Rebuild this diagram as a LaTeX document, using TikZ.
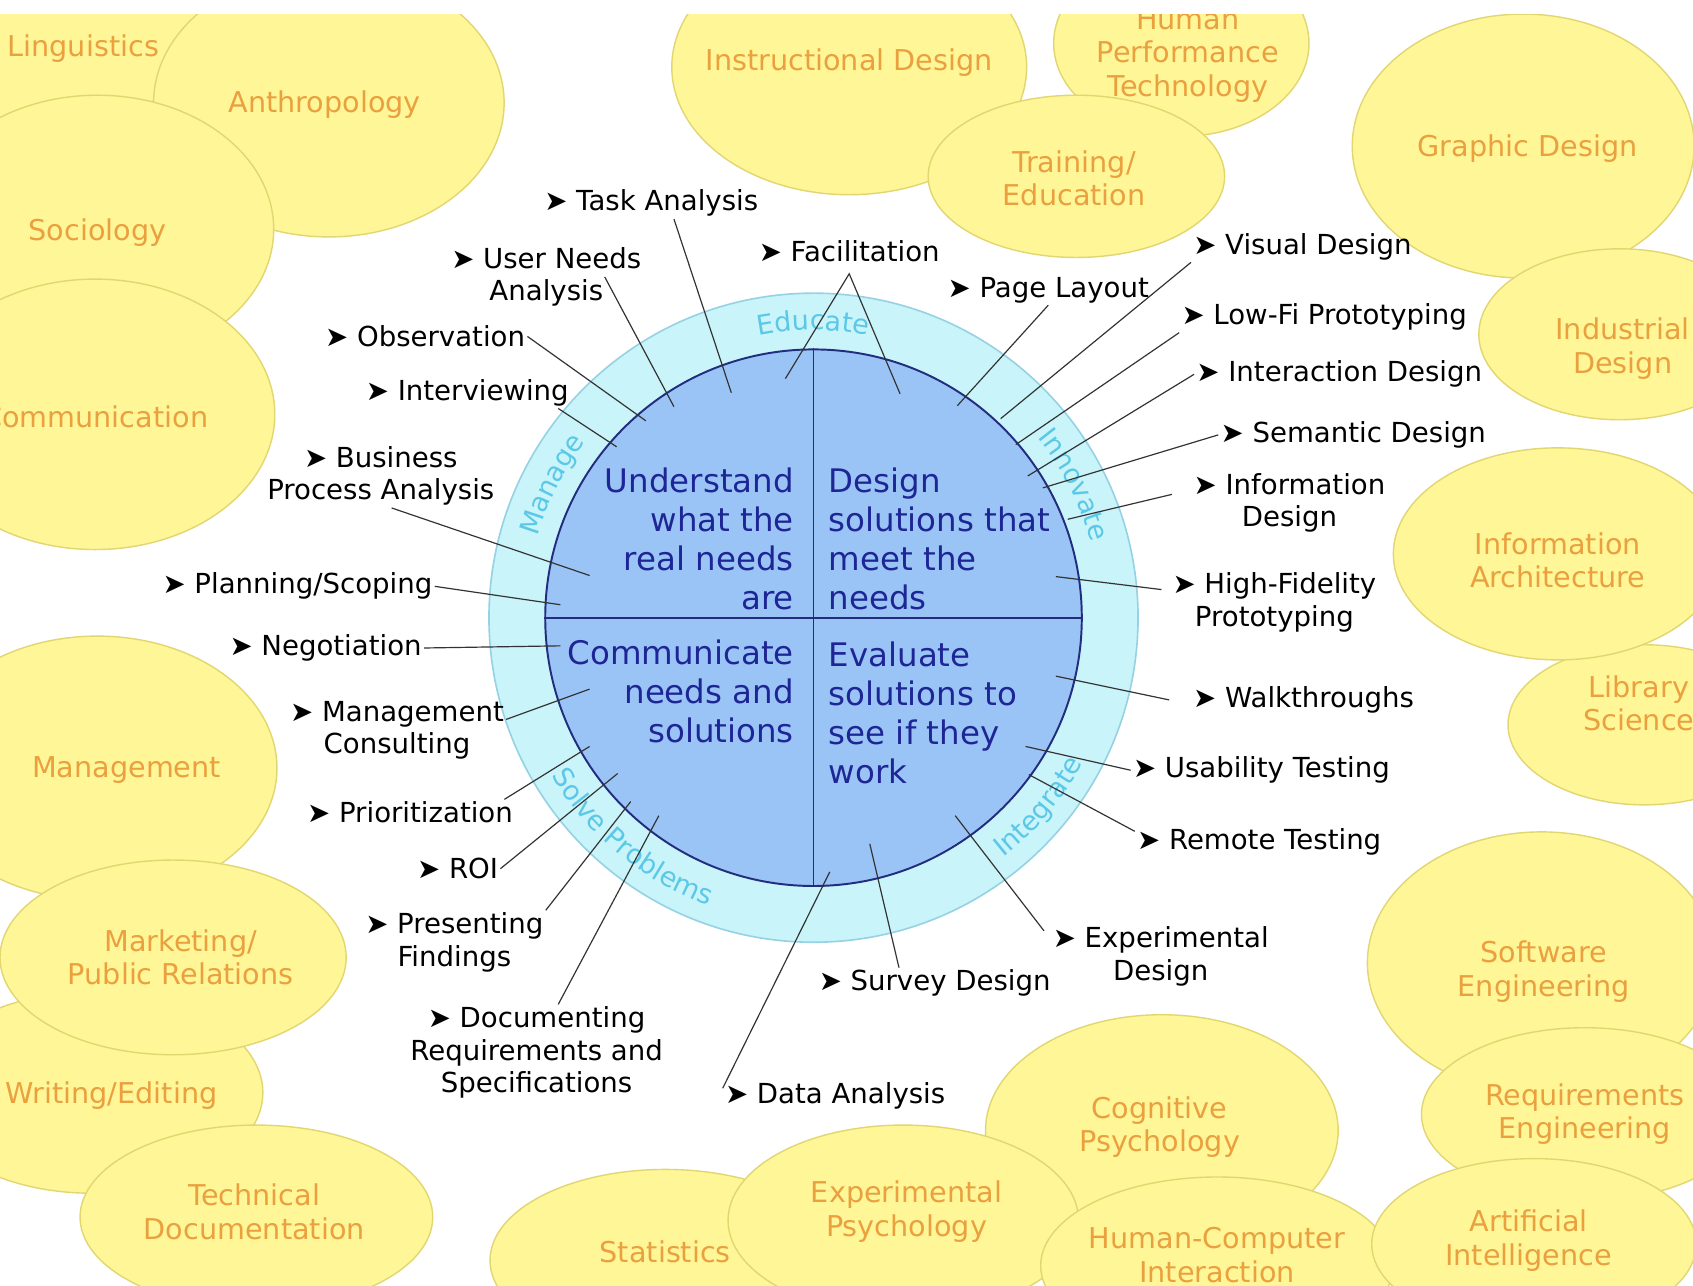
\documentclass[tikz,border=0pt]{standalone}
\usepackage{fontspec}
\setmainfont{DejaVu Sans}
\usetikzlibrary{decorations.text}
\definecolor{bubblefill}{RGB}{255,246,152}
\definecolor{bubbleline}{RGB}{226,214,112}
\definecolor{fieldtext}{RGB}{234,160,62}
\definecolor{ringfill}{RGB}{200,244,250}
\definecolor{ringline}{RGB}{150,210,228}
\definecolor{ringtext}{RGB}{92,200,232}
\definecolor{corefill}{RGB}{155,196,246}
\definecolor{coreline}{RGB}{35,45,125}
\definecolor{coretext}{RGB}{30,38,150}
\newcommand{\ringfont}{\color{ringtext}\fontsize{25}{25}\selectfont}
\begin{document}
\begin{tikzpicture}[x=1pt, y=-1pt,
  bubble/.style={fill=bubblefill, draw=bubbleline, line width=1.3pt},
  field/.style={text=fieldtext, font=\fontsize{26.5}{31}\selectfont, align=center},
  skill/.style={font=\fontsize{25.5}{30}\selectfont, align=center, inner sep=2pt},
  goal/.style={text=coretext, font=\fontsize{30}{36}\selectfont, inner sep=0pt},
  link/.style={draw=black!80, line width=1.1pt},
  divider/.style={draw=coreline, line width=1.5pt}]
\fill[white] (0,0) rectangle (1565,1188);
\clip (0,13) rectangle (1565,1188);

\draw[bubble] (40,20) ellipse [x radius=150pt, y radius=100pt];
\draw[bubble] (304,95) ellipse [x radius=162pt, y radius=124pt];
\draw[bubble] (90,212) ellipse [x radius=163pt, y radius=124pt];
\draw[bubble] (88,383) ellipse [x radius=166pt, y radius=125pt];
\draw[bubble] (90,710) ellipse [x radius=166pt, y radius=122pt];
\draw[bubble] (85,1010) ellipse [x radius=158pt, y radius=93pt];
\draw[bubble] (160,885) ellipse [x radius=160pt, y radius=90pt];
\draw[bubble] (237,1125) ellipse [x radius=163pt, y radius=85pt];
\draw[bubble] (615,1165) ellipse [x radius=162pt, y radius=84pt];
\draw[bubble] (1074,1045) ellipse [x radius=163pt, y radius=107pt];
\draw[bubble] (835,1128) ellipse [x radius=162pt, y radius=88pt];
\draw[bubble] (1125,1170) ellipse [x radius=163pt, y radius=82pt];
\draw[bubble] (1425,890) ellipse [x radius=161pt, y radius=121pt];
\draw[bubble] (1465,1030) ellipse [x radius=151pt, y radius=80pt];
\draw[bubble] (1418,1150) ellipse [x radius=150pt, y radius=79pt];
\draw[bubble] (1520,670) ellipse [x radius=126pt, y radius=74pt];
\draw[bubble] (1440,512) ellipse [x radius=152pt, y radius=98pt];
\draw[bubble] (1408,135) ellipse [x radius=158pt, y radius=122pt];
\draw[bubble] (1497,309) ellipse [x radius=130pt, y radius=79pt];
\draw[bubble] (785,62) ellipse [x radius=164pt, y radius=118pt];
\draw[bubble] (1092,40) ellipse [x radius=118pt, y radius=86pt];
\draw[bubble] (995,163) ellipse [x radius=137pt, y radius=75pt];

\node[field] (ling) at (77,45) {Linguistics};
\node[field] (anthro) at (300,97) {Anthropology};
\node[field] (socio) at (90,215) {Sociology};
\node[field] (comm) at (88,385) {Communication};
\node[field] (mgmt) at (117,712) {Management};
\node[field] (market) at (167,885) {Marketing/\\Public Relations};
\node[field] (writing) at (103,1013) {Writing/Editing};
\node[field] (techdoc) at (235,1120) {Technical\\Documentation};
\node[field] (stats) at (615,1157) {Statistics};
\node[field] (exppsy) at (838,1120) {Experimental\\Psychology};
\node[field] (cogpsy) at (1072,1042) {Cognitive\\Psychology};
\node[field] (hci) at (1125,1160) {Human-Computer\\Interaction};
\node[field] (ai) at (1413,1147) {Artificial\\Intelligence};
\node[field] (reqeng) at (1465,1030) {Requirements\\Engineering};
\node[field] (softeng) at (1427,898) {Software\\Engineering};
\node[field] (library) at (1515,650) {Library\\Science};
\node[field] (infoarch) at (1440,518) {Information\\Architecture};
\node[field] (industrial) at (1500,322) {Industrial\\Design};
\node[field] (graphic) at (1412,137) {Graphic Design};
\node[field] (hpt) at (1098,51) {Human\\Performance\\Technology};
\node[field] (training) at (993,165) {Training/\\Education};
\node[field] (instr) at (785,58) {Instructional Design};

\node[circle, minimum size=600pt, inner sep=0pt, fill=ringfill, draw=ringline, line width=1.5pt] (ring) at (752,571) {};
\node[circle, minimum size=496pt, inner sep=0pt, fill=corefill, draw=coreline, line width=1.8pt] (core) at (752,571) {};
\draw[divider] (core.north) -- (core.south);
\draw[divider] (core.west) -- (core.east);

\node[goal, align=right, anchor=north east] (understand) at (734,432) {Understand\\what the\\real needs\\are};
\node[goal, align=left, anchor=north west] (design) at (766,432) {Design\\solutions that\\meet the\\needs};
\node[goal, align=right, anchor=north east] (communicate) at (734,591) {Communicate\\needs and\\solutions};
\node[goal, align=left, anchor=north west] (evaluate) at (766,593) {Evaluate\\solutions to\\see if they\\work};

\path[decorate, decoration={text along path, text align=center, text={|\ringfont|Educate}}] (752,571) ++(120:266pt) arc[start angle=120, end angle=60, radius=266pt];
\path[decorate, decoration={text along path, text align=center, text={|\ringfont|Manage}}] (752,571) ++(183:266pt) arc[start angle=183, end angle=123, radius=266pt];
\path[decorate, decoration={text along path, text align=center, text={|\ringfont|Innovate}}] (752,571) ++(57:266pt) arc[start angle=57, end angle=-3, radius=266pt];
\path[decorate, decoration={text along path, text align=center, text={|\ringfont|Integrate}}] (752,571) ++(-70:283pt) arc[start angle=-70, end angle=-10, radius=283pt];
\path[decorate, decoration={text along path, text align=center, text={|\ringfont|Solve Problems}}] (752,571) ++(195:283pt) arc[start angle=195, end angle=266, radius=283pt];

\node[skill] (task) at (602,188) {➤ Task Analysis};
\node[skill] (usr) at (505,256) {➤ User Needs\\Analysis};
\node[skill] (obs) at (393,311) {➤ Observation};
\node[skill] (intv) at (432,363) {➤ Interviewing};
\node[skill] (bpa) at (352,440) {➤ Business\\Process Analysis};
\node[skill] (plan) at (275,542) {➤ Planning/Scoping};
\node[skill] (nego) at (301,599) {➤ Negotiation};
\node[skill] (mcon) at (367,675) {➤ Management\\Consulting};
\node[skill] (prio) at (379,751) {➤ Prioritization};
\node[skill] (roi) at (423,803) {➤ ROI};
\node[skill] (pres) at (420,871) {➤ Presenting\\Findings};
\node[skill] (docs) at (496,973) {➤ Documenting\\Requirements and\\Specifications};
\node[skill] (data) at (772,1013) {➤ Data Analysis};
\node[skill] (survey) at (864,909) {➤ Survey Design};
\node[skill] (expd) at (1073,884) {➤ Experimental\\Design};
\node[skill] (remote) at (1164,778) {➤ Remote Testing};
\node[skill] (usab) at (1166,712) {➤ Usability Testing};
\node[skill] (walk) at (1205,647) {➤ Walkthroughs};
\node[skill] (hifi) at (1178,557) {➤ High-Fidelity\\Prototyping};
\node[skill] (infod) at (1192,465) {➤ Information\\Design};
\node[skill] (sem) at (1251,402) {➤ Semantic Design};
\node[skill] (inter) at (1238,346) {➤ Interaction Design};
\node[skill] (lofi) at (1224,293) {➤ Low-Fi Prototyping};
\node[skill] (visual) at (1204,228) {➤ Visual Design};
\node[skill] (page) at (969,268) {➤ Page Layout};
\node[skill] (facil) at (785,232) {➤ Facilitation};

\coordinate (c-task) at (676,363);
\coordinate (c-usr) at (623,376);
\coordinate (c-obs) at (597,389);
\coordinate (c-intv) at (570,413);
\coordinate (c-bpa) at (545,532);
\coordinate (c-plan) at (518,559);
\coordinate (c-nego) at (518,597);
\coordinate (c-mcon) at (545,637);
\coordinate (c-prio) at (545,690);
\coordinate (c-roi) at (571,715);
\coordinate (c-pres) at (583,741);
\coordinate (c-docs) at (609,754);
\coordinate (c-data) at (767,806);
\coordinate (c-survey) at (804,780);
\coordinate (c-expd) at (883,754);
\coordinate (c-remote) at (951,716);
\coordinate (c-usab) at (948,690);
\coordinate (c-walk) at (976,625);
\coordinate (c-hifi) at (976,533);
\coordinate (c-infod) at (987,480);
\coordinate (c-sem) at (964,451);
\coordinate (c-inter) at (950,440);
\coordinate (c-lofi) at (939,411);
\coordinate (c-visual) at (925,387);
\coordinate (c-page) at (885,375);
\coordinate (c-facil1) at (726,350);
\coordinate (c-facil2) at (832,364);

\draw[link] ([xshift=21pt]task.south) -- (c-task);
\draw[link] ([xshift=-36pt]usr.east) -- (c-usr);
\draw[link] (obs.east) -- (c-obs);
\draw[link] ([xshift=-12pt]intv.south east) -- (c-intv);
\draw[link] ([xshift=10pt]bpa.south) -- (c-bpa);
\draw[link] (plan.east) -- (c-plan);
\draw[link] (nego.east) -- (c-nego);
\draw[link] ([yshift=10pt]mcon.east) -- (c-mcon);
\draw[link] ([xshift=-10pt]prio.north east) -- (c-prio);
\draw[link] (roi.east) -- (c-roi);
\draw[link] (pres.north east) -- (c-pres);
\draw[link] ([xshift=20pt]docs.north) -- (c-docs);
\draw[link] ([yshift=7pt]data.west) -- (c-data);
\draw[link] ([xshift=-33pt]survey.north) -- (c-survey);
\draw[link] ([xshift=-6pt,yshift=-6pt]expd.north west) -- (c-expd);
\draw[link] ([yshift=-5pt]remote.north west) -- (c-remote);
\draw[link] (usab.west) -- (c-usab);
\draw[link] ([xshift=-20pt]walk.west) -- (c-walk);
\draw[link] ([xshift=-8pt,yshift=12pt]hifi.west) -- (c-hifi);
\draw[link] ([xshift=-18pt,yshift=8pt]infod.west) -- (c-infod);
\draw[link] (sem.west) -- (c-sem);
\draw[link] (inter.west) -- (c-inter);
\draw[link] (lofi.south west) -- (c-lofi);
\draw[link] (visual.south west) -- (c-visual);
\draw[link] (page.south) -- (c-page);
\draw[link] (c-facil1) -- ([yshift=-9pt]facil.south) -- (c-facil2);
\end{tikzpicture}
\end{document}
